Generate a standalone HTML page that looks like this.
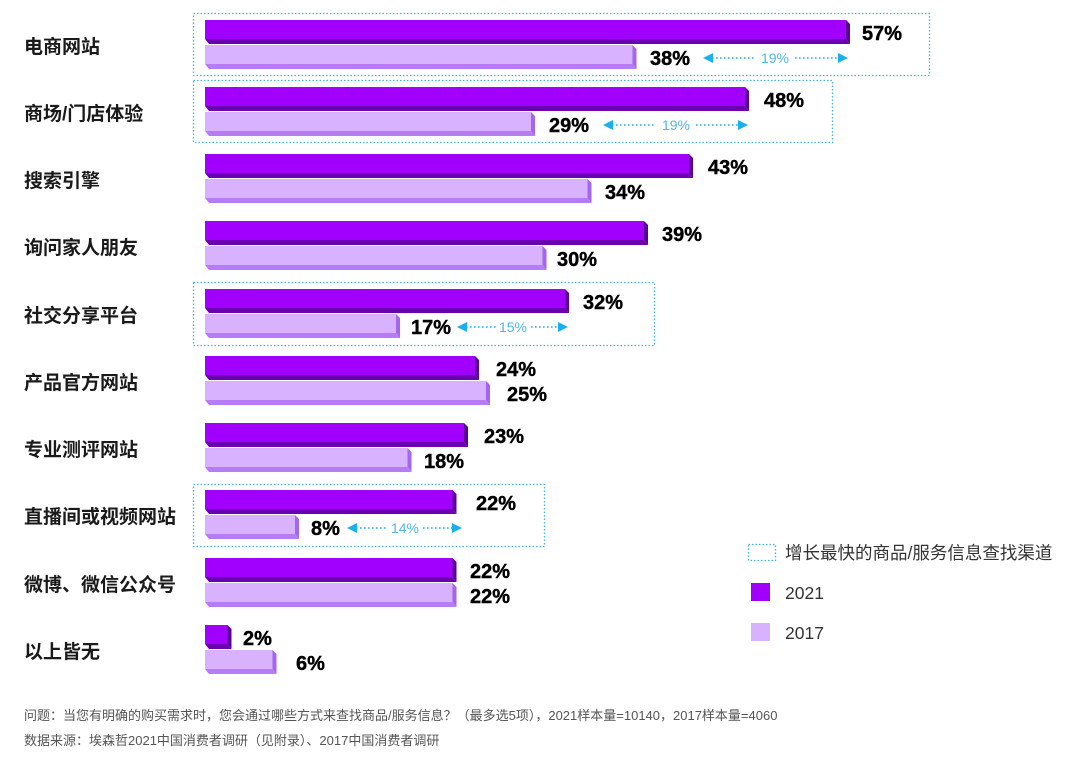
<!DOCTYPE html>
<html><head><meta charset="utf-8"><style>
body{margin:0;background:#fff;}
svg{display:block;font-family:"Liberation Sans","Noto Sans CJK SC",sans-serif;}
.c{font-size:19px;font-weight:bold;fill:#1a1a1a;font-family:"Liberation Sans","Noto Sans CJK SC",sans-serif;}
.v{font-size:20px;font-weight:bold;fill:#000;stroke:#000;stroke-width:0.4;}
.a{font-size:14px;fill:#4fb6ea;}
.n{font-size:13px;fill:#555;font-family:"Liberation Sans","Noto Sans CJK SC",sans-serif;}
.l{font-size:17.5px;fill:#333;font-family:"Liberation Sans","Noto Sans CJK SC",sans-serif;}
</style></head><body>
<svg width="1080" height="761" viewBox="0 0 1080 761" xmlns="http://www.w3.org/2000/svg">
<g fill="none" stroke="#3bb7d8" stroke-width="1.3" stroke-dasharray="1.5 2">
<rect x="193.5" y="13.5" width="736" height="62"/>
<rect x="193.5" y="80.5" width="639" height="62"/>
<rect x="193.5" y="282.5" width="461" height="63"/>
<rect x="193.5" y="484.5" width="351" height="62"/>
<rect x="748.5" y="544.5" width="27" height="16"/>
</g>

<g transform="translate(0,20)">
<text class="c" x="24" y="33">电商网站</text>
<rect x="205" y="0" width="641" height="19" fill="#a100ff"/><polygon points="205,19 846,19 850,24 209,24" fill="#6a00b0"/><polygon points="846,0 850,4 850,24 846,19" fill="#5a0096"/>
<rect x="205" y="25" width="427.5" height="19" fill="#d8b1ff"/><polygon points="205,44 632.5,44 636.5,49 209,49" fill="#b67cf5"/><polygon points="632.5,25 636.5,29 636.5,49 632.5,44" fill="#a566ee"/>
<text class="v" x="862" y="20">57%</text><text class="v" x="650" y="45">38%</text>
</g>
<g transform="translate(0,87)">
<text class="c" x="24" y="33">商场/门店体验</text>
<rect x="205" y="0" width="540" height="19" fill="#a100ff"/><polygon points="205,19 745,19 749,24 209,24" fill="#6a00b0"/><polygon points="745,0 749,4 749,24 745,19" fill="#5a0096"/>
<rect x="205" y="25" width="326" height="19" fill="#d8b1ff"/><polygon points="205,44 531,44 535,49 209,49" fill="#b67cf5"/><polygon points="531,25 535,29 535,49 531,44" fill="#a566ee"/>
<text class="v" x="764" y="20">48%</text><text class="v" x="549" y="45">29%</text>
</g>
<g transform="translate(0,154)">
<text class="c" x="24" y="33">搜索引擎</text>
<rect x="205" y="0" width="484" height="19" fill="#a100ff"/><polygon points="205,19 689,19 693,24 209,24" fill="#6a00b0"/><polygon points="689,0 693,4 693,24 689,19" fill="#5a0096"/>
<rect x="205" y="25" width="382.5" height="19" fill="#d8b1ff"/><polygon points="205,44 587.5,44 591.5,49 209,49" fill="#b67cf5"/><polygon points="587.5,25 591.5,29 591.5,49 587.5,44" fill="#a566ee"/>
<text class="v" x="708" y="20">43%</text><text class="v" x="605" y="45">34%</text>
</g>
<g transform="translate(0,221)">
<text class="c" x="24" y="33">询问家人朋友</text>
<rect x="205" y="0" width="439" height="19" fill="#a100ff"/><polygon points="205,19 644,19 648,24 209,24" fill="#6a00b0"/><polygon points="644,0 648,4 648,24 644,19" fill="#5a0096"/>
<rect x="205" y="25" width="337.5" height="19" fill="#d8b1ff"/><polygon points="205,44 542.5,44 546.5,49 209,49" fill="#b67cf5"/><polygon points="542.5,25 546.5,29 546.5,49 542.5,44" fill="#a566ee"/>
<text class="v" x="662" y="20">39%</text><text class="v" x="557" y="45">30%</text>
</g>
<g transform="translate(0,289)">
<text class="c" x="24" y="33">社交分享平台</text>
<rect x="205" y="0" width="360" height="19" fill="#a100ff"/><polygon points="205,19 565,19 569,24 209,24" fill="#6a00b0"/><polygon points="565,0 569,4 569,24 565,19" fill="#5a0096"/>
<rect x="205" y="25" width="191" height="19" fill="#d8b1ff"/><polygon points="205,44 396,44 400,49 209,49" fill="#b67cf5"/><polygon points="396,25 400,29 400,49 396,44" fill="#a566ee"/>
<text class="v" x="583" y="20">32%</text><text class="v" x="411" y="45">17%</text>
</g>
<g transform="translate(0,356)">
<text class="c" x="24" y="33">产品官方网站</text>
<rect x="205" y="0" width="270" height="19" fill="#a100ff"/><polygon points="205,19 475,19 479,24 209,24" fill="#6a00b0"/><polygon points="475,0 479,4 479,24 475,19" fill="#5a0096"/>
<rect x="205" y="25" width="281" height="19" fill="#d8b1ff"/><polygon points="205,44 486,44 490,49 209,49" fill="#b67cf5"/><polygon points="486,25 490,29 490,49 486,44" fill="#a566ee"/>
<text class="v" x="496" y="20">24%</text><text class="v" x="507" y="45">25%</text>
</g>
<g transform="translate(0,423)">
<text class="c" x="24" y="33">专业测评网站</text>
<rect x="205" y="0" width="259" height="19" fill="#a100ff"/><polygon points="205,19 464,19 468,24 209,24" fill="#6a00b0"/><polygon points="464,0 468,4 468,24 464,19" fill="#5a0096"/>
<rect x="205" y="25" width="202.5" height="19" fill="#d8b1ff"/><polygon points="205,44 407.5,44 411.5,49 209,49" fill="#b67cf5"/><polygon points="407.5,25 411.5,29 411.5,49 407.5,44" fill="#a566ee"/>
<text class="v" x="484" y="20">23%</text><text class="v" x="424" y="45">18%</text>
</g>
<g transform="translate(0,490)">
<text class="c" x="24" y="33">直播间或视频网站</text>
<rect x="205" y="0" width="247.5" height="19" fill="#a100ff"/><polygon points="205,19 452.5,19 456.5,24 209,24" fill="#6a00b0"/><polygon points="452.5,0 456.5,4 456.5,24 452.5,19" fill="#5a0096"/>
<rect x="205" y="25" width="90" height="19" fill="#d8b1ff"/><polygon points="205,44 295,44 299,49 209,49" fill="#b67cf5"/><polygon points="295,25 299,29 299,49 295,44" fill="#a566ee"/>
<text class="v" x="476" y="20">22%</text><text class="v" x="311" y="45">8%</text>
</g>
<g transform="translate(0,558)">
<text class="c" x="24" y="33">微博、微信公众号</text>
<rect x="205" y="0" width="247.5" height="19" fill="#a100ff"/><polygon points="205,19 452.5,19 456.5,24 209,24" fill="#6a00b0"/><polygon points="452.5,0 456.5,4 456.5,24 452.5,19" fill="#5a0096"/>
<rect x="205" y="25" width="247.5" height="19" fill="#d8b1ff"/><polygon points="205,44 452.5,44 456.5,49 209,49" fill="#b67cf5"/><polygon points="452.5,25 456.5,29 456.5,49 452.5,44" fill="#a566ee"/>
<text class="v" x="470" y="20">22%</text><text class="v" x="470" y="45">22%</text>
</g>
<g transform="translate(0,625)">
<text class="c" x="24" y="33">以上皆无</text>
<rect x="205" y="0" width="22.5" height="19" fill="#a100ff"/><polygon points="205,19 227.5,19 231.5,24 209,24" fill="#6a00b0"/><polygon points="227.5,0 231.5,4 231.5,24 227.5,19" fill="#5a0096"/>
<rect x="205" y="25" width="67.5" height="19" fill="#d8b1ff"/><polygon points="205,44 272.5,44 276.5,49 209,49" fill="#b67cf5"/><polygon points="272.5,25 276.5,29 276.5,49 272.5,44" fill="#a566ee"/>
<text class="v" x="243" y="20">2%</text><text class="v" x="296" y="45">6%</text>
</g>

<g stroke="#1ab0ef" stroke-width="1.6" stroke-dasharray="1.6 2.4" fill="none">
<line x1="712" y1="58" x2="756" y2="58"/><line x1="795" y1="58" x2="840" y2="58"/>
<line x1="612" y1="125" x2="656" y2="125"/><line x1="696" y1="125" x2="740" y2="125"/>
<line x1="466" y1="327" x2="496" y2="327"/><line x1="531" y1="327" x2="560" y2="327"/>
<line x1="356" y1="528" x2="388" y2="528"/><line x1="423" y1="528" x2="454" y2="528"/>
</g>
<g fill="#1ab0ef">
<polygon points="703,58 713,53 713,63"/><polygon points="848,58 838,53 838,63"/>
<polygon points="603,125 613,120 613,130"/><polygon points="748,125 738,120 738,130"/>
<polygon points="457,327 467,322 467,332"/><polygon points="568,327 558,322 558,332"/>
<polygon points="347,528 357,523 357,533"/><polygon points="462,528 452,523 452,533"/>
</g>
<text class="a" x="775" y="63" text-anchor="middle">19%</text>
<text class="a" x="676" y="130" text-anchor="middle">19%</text>
<text class="a" x="513" y="332" text-anchor="middle">15%</text>
<text class="a" x="405" y="533" text-anchor="middle">14%</text>

<text class="l" x="785" y="559">增长最快的商品/服务信息查找渠道</text>
<rect x="751" y="583" width="19" height="18" fill="#a100ff"/>
<text class="l" x="785" y="599">2021</text>
<rect x="751" y="623" width="19" height="18" fill="#d8b1ff"/>
<text class="l" x="785" y="639">2017</text>

<text class="n" x="24" y="720">问题：当您有明确的购买需求时，您会通过哪些方式来查找商品/服务信息？（最多选5项），2021样本量=10140，2017样本量=4060</text>
<text class="n" x="24" y="745">数据来源：埃森哲2021中国消费者调研（见附录）、2017中国消费者调研</text>
</svg>
</body></html>
